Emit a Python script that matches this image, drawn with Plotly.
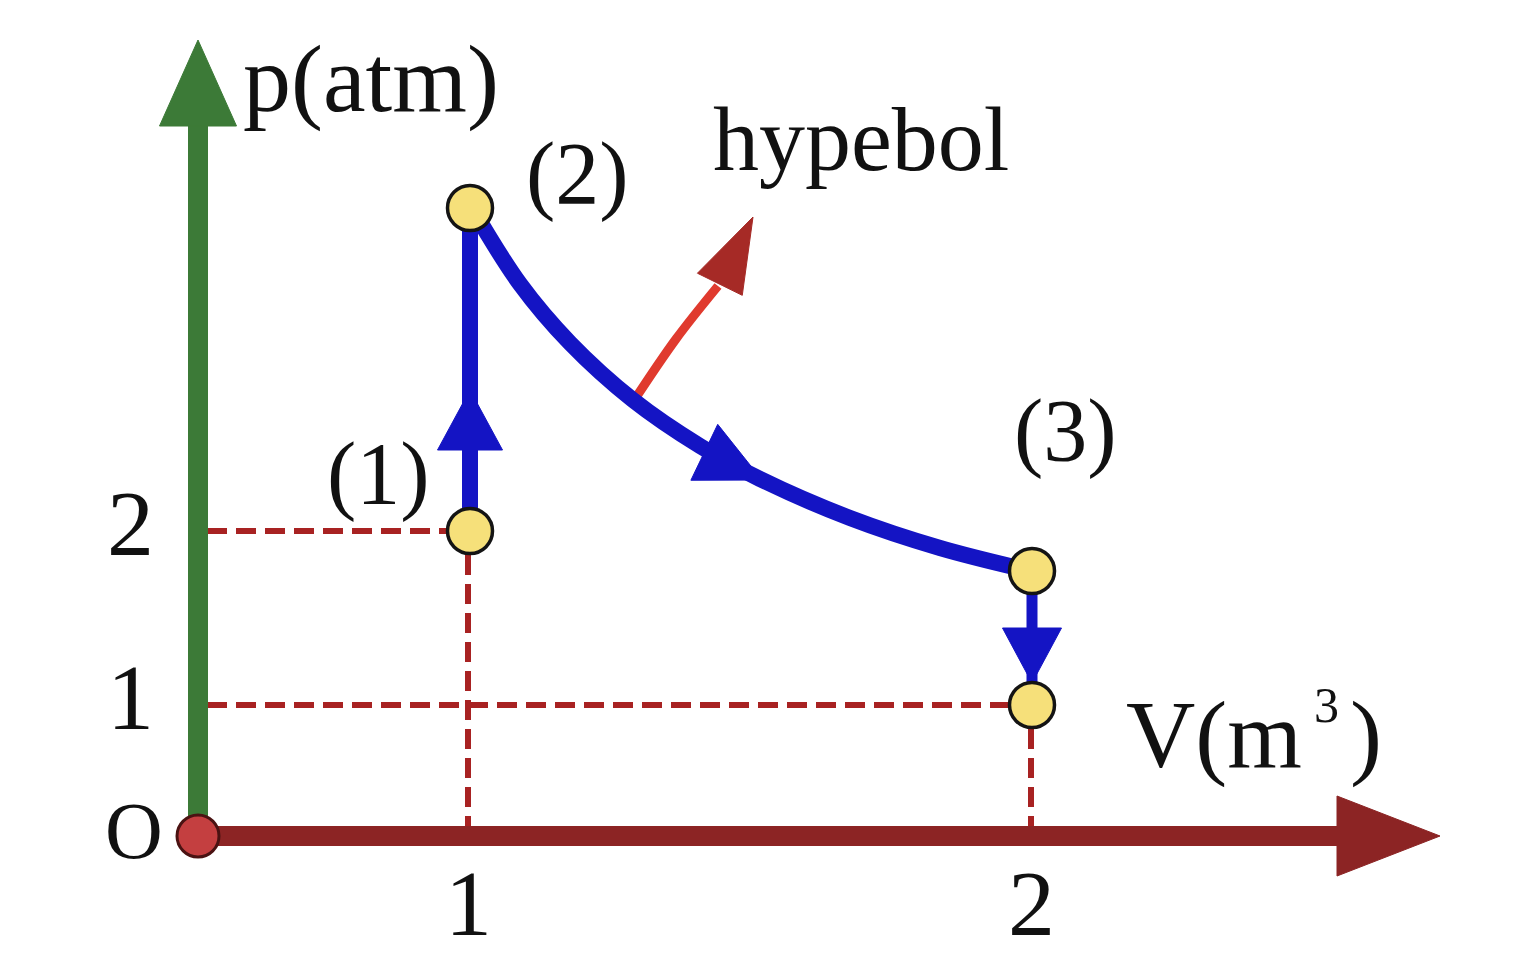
import math
import plotly.graph_objects as go

# ---- diagram data (sketch of a p-V diagram, not drawn to scale; 1 unit = 100 px) ----
V_tick_labels = ["1", "2"]
V_tick_pos = [2.70, 8.33]
p_tick_labels = ["2", "1"]
p_tick_pos = [3.05, 1.31]

state_labels = ["(1)", "(2)", "(3)"]
state_V = [2.72, 2.72, 8.34, 8.34]
state_p = [3.05, 6.28, 2.65, 1.31]

# isotherm (hyperbola) from state (2) to state (3)
curve_V = [2.74, 3.22, 3.72, 4.35, 5.02, 5.62, 6.52, 7.42, 8.33]
curve_p = [6.28, 5.52, 4.93, 4.36, 3.90, 3.57, 3.18, 2.88, 2.65]

# red pointer to the word "hypebol"
pointer_V = [4.35, 4.78, 5.20]
pointer_p = [4.34, 4.97, 5.50]

# colours
GREEN = "#3c7a37"
AXRED = "#8c2424"
BLUE = "#1414c4"
DASH = "#a82222"
YELLOW = "#f6e07a"
PTRED = "#e03a2e"
HEADRED = "#a62a26"
FONT = "Liberation Serif"

fig = go.Figure()


def line(x, y, color, width, dash=None, shape="linear"):
    fig.add_trace(go.Scatter(x=x, y=y, mode="lines",
                             line=dict(color=color, width=width, dash=dash, shape=shape),
                             hoverinfo="skip", showlegend=False))


def head(tip, direction, length, width, color):
    dx, dy = direction
    n = math.hypot(dx, dy)
    dx, dy = dx / n, dy / n
    bx, by = tip[0] - dx * length, tip[1] - dy * length
    px, py = -dy * width / 2, dx * width / 2
    xs = [tip[0], bx + px, bx - px, tip[0]]
    ys = [tip[1], by + py, by - py, tip[1]]
    fig.add_trace(go.Scatter(x=xs, y=ys, mode="lines", fill="toself",
                             fillcolor=color, line=dict(color=color, width=1),
                             hoverinfo="skip", showlegend=False))


# dashed guide lines
line([0.09, state_V[0]], [p_tick_pos[0], p_tick_pos[0]], DASH, 6, "20px,9px")
line([0.09, state_V[3]], [p_tick_pos[1], p_tick_pos[1]], DASH, 6, "20px,9px")
line([V_tick_pos[0], V_tick_pos[0]], [0.0, state_p[0]], DASH, 6, "20px,9px")
line([V_tick_pos[1], V_tick_pos[1]], [0.0, state_p[3]], DASH, 6, "20px,9px")

# axes (arrows)
line([0, 0], [0, 7.15], GREEN, 20)
head((0, 7.96), (0, 1), 0.86, 0.77, GREEN)
line([0, 11.45], [0, 0], AXRED, 20)
head((12.42, 0), (1, 0), 1.03, 0.80, AXRED)

# red pointer arrow to the label
line(pointer_V, pointer_p, PTRED, 9, shape="spline")
head((5.55, 6.19), (0.442, 0.897), 0.75, 0.50, HEADRED)

# process path
line([state_V[0], state_V[1]], [state_p[0], state_p[1]], BLUE, 16)
head((2.72, 4.46), (0, 1), 0.60, 0.65, BLUE)
line(curve_V, curve_p, BLUE, 16, shape="spline")
head((5.64, 3.56), (1, -0.48), 0.64, 0.62, BLUE)
line([state_V[2], state_V[3]], [state_p[2], state_p[3]], BLUE, 11)
head((8.34, 1.53), (0, -1), 0.55, 0.59, BLUE)

# state points and origin
fig.add_trace(go.Scatter(x=state_V, y=state_p, mode="markers",
                         marker=dict(size=45, color=YELLOW, line=dict(color="#141414", width=3.5)),
                         hoverinfo="skip", showlegend=False))
fig.add_trace(go.Scatter(x=[0], y=[0], mode="markers",
                         marker=dict(size=42, color="#c43f40", line=dict(color="#4a1212", width=3)),
                         hoverinfo="skip", showlegend=False))

ann = []


def text(x, y, s, size):
    ann.append(dict(x=x, y=y, xref="x", yref="y", text=s, showarrow=False,
                    xanchor="center", yanchor="middle",
                    font=dict(family=FONT, size=size, color="#111111")))


for lab, pos in zip(V_tick_labels, V_tick_pos):
    text(pos, -0.67, lab, 94)
for lab, pos in zip(p_tick_labels, p_tick_pos):
    text(-0.68, pos + 0.08, lab, 94)
text(-0.64, 0.05, "O", 80)
text(1.73, 7.58, "p(atm)", 96)
# V(m³) written in three pieces to mimic the small, spaced exponent
text(10.16, 1.02, "V(m", 96)
text(11.28, 1.31, "3", 50)
text(11.68, 1.02, ")", 96)
text(6.63, 6.97, "hypebol", 92)
label_pos = [(1.80, 3.63), (3.79, 6.63), (8.67, 4.06)]
for lab, (lx, ly) in zip(state_labels, label_pos):
    text(lx, ly, lab, 88)

fig.update_layout(
    width=1524, height=972,
    margin=dict(l=0, r=0, t=0, b=0),
    paper_bgcolor="white", plot_bgcolor="white",
    xaxis=dict(range=[-1.98, 13.26], visible=False, showgrid=False, zeroline=False, fixedrange=True),
    yaxis=dict(range=[-1.36, 8.36], visible=False, showgrid=False, zeroline=False, fixedrange=True),
    annotations=ann,
    showlegend=False,
)

fig.write_html("out.html", config={"displayModeBar": False})
